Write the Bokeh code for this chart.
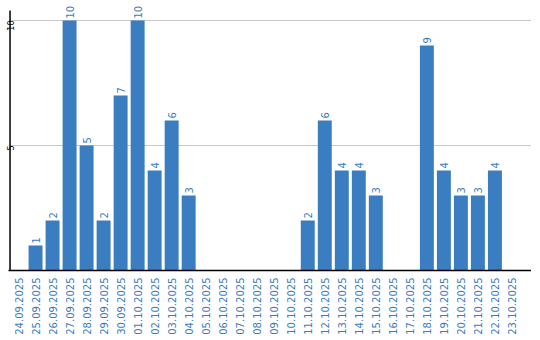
import math
from bokeh.plotting import figure
from bokeh.models import ColumnDataSource, Range1d, FixedTicker
from bokeh.core.properties import value
from bokeh.embed import file_html
from bokeh.resources import INLINE

dates = ["24.09.2025", "25.09.2025", "26.09.2025", "27.09.2025", "28.09.2025",
         "29.09.2025", "30.09.2025", "01.10.2025", "02.10.2025", "03.10.2025",
         "04.10.2025", "05.10.2025", "06.10.2025", "07.10.2025", "08.10.2025",
         "09.10.2025", "10.10.2025", "11.10.2025", "12.10.2025", "13.10.2025",
         "14.10.2025", "15.10.2025", "16.10.2025", "17.10.2025", "18.10.2025",
         "19.10.2025", "20.10.2025", "21.10.2025", "22.10.2025", "23.10.2025"]
counts = [0, 1, 2, 10, 5, 2, 7, 10, 4, 6,
          3, 0, 0, 0, 0, 0, 0, 2, 6, 4,
          4, 3, 0, 0, 9, 4, 3, 3, 4, 0]
y_ticks = [5, 10]
y_axis_top = 10.4

BLUE = "#3b7dc1"
FONT = "DejaVu Sans"

xs = list(range(len(dates)))
src = ColumnDataSource(dict(x=xs, top=counts))
lab = ColumnDataSource(dict(
    x=[x for x, c in zip(xs, counts) if c > 0],
    y=[c for c in counts if c > 0],
    t=[str(c) for c in counts if c > 0],
))

x0 = -0.59
x1 = 30.15
p = figure(frame_width=int(round((x1 - x0) * 17)), frame_height=270,
           output_backend="svg", toolbar_location=None,
           x_range=Range1d(x0, x1), y_range=Range1d(0, 10.8),
           min_border_left=0, min_border_right=0, min_border_top=0, min_border_bottom=0)
p.outline_line_color = None
p.background_fill_color = "white"

p.vbar(x="x", top="top", width=0.82, bottom=0, source=src, color=BLUE, line_color=None)
p.text(x="x", y="y", text="t", source=lab, angle=math.pi / 2,
       text_align="left", text_baseline="middle", y_offset=-2,
       text_color=BLUE, text_font=value(FONT), text_font_size="10px")
# y axis line (only up to the axis top)
p.segment(x0=[-0.5], y0=[0], x1=[-0.5], y1=[y_axis_top], line_color="black", line_width=1.5)

p.xaxis.ticker = FixedTicker(ticks=xs)
p.xaxis.major_label_overrides = {i: d for i, d in enumerate(dates)}
p.xaxis.major_label_orientation = math.pi / 2
p.xaxis.major_label_text_color = BLUE
p.xaxis.major_label_text_font = FONT
p.xaxis.major_label_text_font_size = "10px"
p.xaxis.major_tick_line_color = None
p.xaxis.minor_tick_line_color = None
p.xaxis.major_tick_out = 0
p.xaxis.major_tick_in = 0
p.xaxis.minor_tick_out = 0
p.xaxis.axis_line_color = "black"
p.xaxis.axis_line_width = 1.5
p.xaxis.major_label_standoff = 7

p.yaxis.ticker = FixedTicker(ticks=y_ticks)
p.yaxis.major_label_orientation = math.pi / 2
p.yaxis.major_label_text_color = "black"
p.yaxis.major_label_text_font = FONT
p.yaxis.major_label_text_font_size = "8px"
p.yaxis.major_tick_line_color = None
p.yaxis.minor_tick_line_color = None
p.yaxis.major_tick_out = 0
p.yaxis.major_tick_in = 0
p.yaxis.minor_tick_out = 0
p.yaxis.axis_line_color = None
p.yaxis.major_label_standoff = -2

p.xgrid.grid_line_color = None
p.ygrid.ticker = FixedTicker(ticks=y_ticks)
p.ygrid.grid_line_color = "#c8c8c8"

open("out.html", "w").write(file_html(p, INLINE))
